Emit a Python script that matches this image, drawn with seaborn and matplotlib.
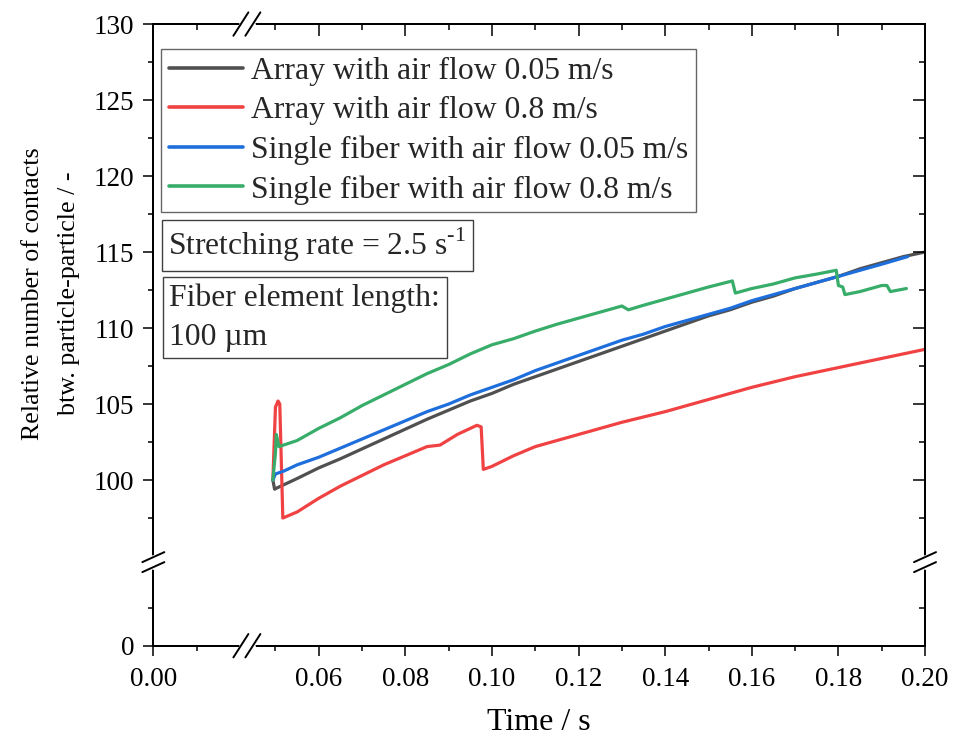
import numpy as np
import pandas as pd
import matplotlib
matplotlib.use("Agg")
import matplotlib.pyplot as plt
from matplotlib.ticker import FixedLocator, FormatStrFormatter
import seaborn as sns

# ---------------- data ----------------
LABELS = ["Array with air flow 0.05 m/s",
          "Array with air flow 0.8 m/s",
          "Single fiber with air flow 0.05 m/s",
          "Single fiber with air flow 0.8 m/s"]
COLORS = ["#505050", "#f04242", "#1e6fdc", "#38ad6a"]

t_arr_slow = [0.0494, 0.0498, 0.0505, 0.052, 0.055, 0.060, 0.065, 0.070, 0.075, 0.080,
              0.085, 0.090, 0.095, 0.100, 0.105, 0.110, 0.115, 0.120, 0.125, 0.130,
              0.135, 0.140, 0.145, 0.150, 0.155, 0.160, 0.165, 0.170, 0.175, 0.180,
              0.185, 0.190, 0.195, 0.200]
v_arr_slow = [100.0, 99.4, 99.5, 99.7, 100.1, 100.8, 101.4, 102.05, 102.7, 103.35,
              104.0, 104.6, 105.2, 105.7, 106.3, 106.8, 107.3, 107.8, 108.3, 108.8,
              109.3, 109.8, 110.3, 110.8, 111.2, 111.7, 112.1, 112.6, 113.0, 113.4,
              113.9, 114.3, 114.7, 115.0]

t_arr_fast = [0.0494, 0.0500, 0.0506, 0.0510, 0.0517, 0.055, 0.060, 0.065, 0.070, 0.075,
              0.080, 0.085, 0.088, 0.092, 0.0965, 0.0975, 0.0980, 0.100, 0.105, 0.110,
              0.115, 0.120, 0.125, 0.130, 0.140, 0.150, 0.160, 0.170, 0.180, 0.190, 0.200]
v_arr_fast = [100.0, 104.8, 105.2, 105.0, 97.5, 97.9, 98.8, 99.6, 100.3, 101.0,
              101.6, 102.2, 102.3, 103.0, 103.6, 103.5, 100.7, 100.9, 101.6, 102.2,
              102.6, 103.0, 103.4, 103.8, 104.5, 105.3, 106.1, 106.8, 107.4, 108.0, 108.6]

t_fib_slow = [0.0494, 0.0500, 0.052, 0.055, 0.060, 0.065, 0.070, 0.075, 0.080, 0.085,
              0.090, 0.095, 0.100, 0.105, 0.110, 0.115, 0.120, 0.125, 0.130, 0.135,
              0.140, 0.145, 0.150, 0.155, 0.160, 0.165, 0.170, 0.175, 0.180, 0.185,
              0.190, 0.196]
v_fib_slow = [100.0, 100.4, 100.6, 101.0, 101.5, 102.1, 102.7, 103.3, 103.9, 104.5,
              105.0, 105.6, 106.1, 106.6, 107.2, 107.7, 108.2, 108.7, 109.2, 109.6,
              110.1, 110.5, 110.9, 111.3, 111.8, 112.2, 112.6, 113.0, 113.4, 113.8,
              114.2, 114.7]

t_fib_fast = [0.0494, 0.0500, 0.0502, 0.0508, 0.055, 0.060, 0.065, 0.070, 0.075, 0.080,
              0.085, 0.090, 0.095, 0.100, 0.105, 0.110, 0.115, 0.120, 0.125, 0.130,
              0.1315, 0.135, 0.140, 0.145, 0.150, 0.1555, 0.1562, 0.160, 0.165, 0.170,
              0.175, 0.1795, 0.1800, 0.181, 0.1815, 0.185, 0.190, 0.1912, 0.1920, 0.1957]
v_fib_fast = [100.0, 101.8, 103.0, 102.2, 102.6, 103.4, 104.1, 104.9, 105.6, 106.3,
              107.0, 107.6, 108.3, 108.9, 109.3, 109.8, 110.25, 110.65, 111.05, 111.45,
              111.2, 111.5, 111.9, 112.3, 112.7, 113.1, 112.3, 112.6, 112.9, 113.3,
              113.55, 113.8, 112.8, 112.7, 112.2, 112.4, 112.8, 112.8, 112.4, 112.6]

X_MAJOR = [0.00, 0.06, 0.08, 0.10, 0.12, 0.14, 0.16, 0.18, 0.20]
X_MINOR = [0.01, 0.05, 0.07, 0.09, 0.11, 0.13, 0.15, 0.17, 0.19]
Y_MAJOR = [0, 100, 105, 110, 115, 120, 125, 130]
Y_MINOR = [2.5, 97.5, 102.5, 107.5, 112.5, 117.5, 122.5, 127.5]

# broken axes: [0, XA] | [XB, 0.20]  and  [0, YA] | [YB, 130]
XA, XB = 0.0216, 0.0434
YA, YB = 5.5, 94.6


def fwd_x(x):
    x = np.asarray(x, float)
    return np.where(x <= XA, x, np.where(x >= XB, x - (XB - XA), XA))


def inv_x(x):
    x = np.asarray(x, float)
    return np.where(x <= XA, x, x + (XB - XA))


def fwd_y(y):
    y = np.asarray(y, float)
    return np.where(y <= YA, y, np.where(y >= YB, y - (YB - YA), YA))


def inv_y(y):
    y = np.asarray(y, float)
    return np.where(y <= YA, y, y + (YB - YA))


frames = []
for lab, t, v in zip(LABELS, [t_arr_slow, t_arr_fast, t_fib_slow, t_fib_fast],
                     [v_arr_slow, v_arr_fast, v_fib_slow, v_fib_fast]):
    frames.append(pd.DataFrame({"t": t, "v": v, "series": lab}))
df = pd.concat(frames, ignore_index=True)

# ---------------- style ----------------
sns.set_theme(style="ticks")
plt.rcParams["font.family"] = ["Liberation Serif", "DejaVu Serif"]
plt.rcParams["mathtext.fontset"] = "custom"
plt.rcParams["mathtext.rm"] = "Liberation Serif"
plt.rcParams["axes.linewidth"] = 1.4

fig = plt.figure(figsize=(9.56, 7.40), dpi=100)
ax = fig.add_axes([0.1604, 0.1274, 0.8072, 0.8401])
ax.set_xscale("function", functions=(fwd_x, inv_x))
ax.set_yscale("function", functions=(fwd_y, inv_y))

sns.lineplot(data=df, x="t", y="v", hue="series", hue_order=LABELS,
             palette=dict(zip(LABELS, COLORS)), estimator=None, sort=False,
             lw=2.3, ax=ax)

ax.set_xlim(0, 0.20)
ax.set_ylim(0, 130)
ax.xaxis.set_major_locator(FixedLocator(X_MAJOR))
ax.xaxis.set_minor_locator(FixedLocator(X_MINOR))
ax.yaxis.set_major_locator(FixedLocator(Y_MAJOR))
ax.yaxis.set_minor_locator(FixedLocator(Y_MINOR))
ax.xaxis.set_major_formatter(FormatStrFormatter("%.2f"))
ax.yaxis.set_major_formatter(FormatStrFormatter("%d"))
ax.tick_params(which="both", direction="out", width=1.1, colors="black",
               labelsize=19.5, top=False, right=False)
ax.tick_params(which="major", length=7.5)
ax.tick_params(which="minor", length=3.8)
ax.tick_params(axis="x", pad=8)
ax.tick_params(axis="y", pad=6)

ax.set_xlabel("Time / s", fontsize=23, color="black", va="center")
ax.set_ylabel("Relative number of contacts\nbtw. particle-particle / -",
              fontsize=18.7, color="black", linespacing=1.8)
ax.xaxis.set_label_coords(0.5, -0.1227)
ax.yaxis.set_label_coords(-0.095, 0.567)

handles, labels = ax.get_legend_handles_labels()
leg = ax.legend(handles, labels, loc="upper left", bbox_to_anchor=(0.0100, 0.9600),
                borderaxespad=0, frameon=True, fancybox=False, edgecolor="0.25",
                fontsize=22.8, handlelength=2.33, handletextpad=0.25,
                borderpad=0.25, labelspacing=0.32)
leg.get_frame().set_linewidth(1.0)
for h in leg.get_lines():
    h.set_linewidth(2.6)

box = dict(boxstyle="square,pad=0.2", fc="white", ec="0.25", lw=1.0)
ax.text(0.0195, 0.675, r"Stretching rate = 2.5 s$^{\text{-1}}$",
        transform=ax.transAxes, ha="left", va="top", fontsize=22.8, bbox=box)
ax.text(0.0208, 0.583, "Fiber element length:\n100 \u00b5m", linespacing=1.45,
        transform=ax.transAxes, ha="left", va="top", fontsize=22.8, bbox=box)

# top / right axes with inward ticks
axt = ax.twiny()
axt.set_xscale("function", functions=(fwd_x, inv_x))
axt.set_xlim(0, 0.20)
axt.xaxis.set_major_locator(FixedLocator(X_MAJOR))
axt.xaxis.set_minor_locator(FixedLocator(X_MINOR))
axt.tick_params(axis="x", which="both", direction="in", width=1.1, colors="black",
                top=True, bottom=False, labeltop=False)
axt.tick_params(axis="x", which="major", length=8.5)
axt.tick_params(axis="x", which="minor", length=4.3)

axr = ax.twinx()
axr.set_yscale("function", functions=(fwd_y, inv_y))
axr.set_ylim(0, 130)
axr.yaxis.set_major_locator(FixedLocator(Y_MAJOR))
axr.yaxis.set_minor_locator(FixedLocator(Y_MINOR))
axr.tick_params(axis="y", which="both", direction="in", width=1.1, colors="black",
                right=True, left=False, labelright=False)
axr.tick_params(axis="y", which="major", length=8.5)
axr.tick_params(axis="y", which="minor", length=4.3)

for a in (ax, axt, axr):
    for s in a.spines.values():
        s.set_linewidth(1.4)
        s.set_color("black")

# break marks
W, H = 771.7, 621.7
xb = XA / (0.20 - (XB - XA))
yb = YA / (130 - (YB - YA))
kw = dict(transform=axr.transAxes, clip_on=False, zorder=20)
for yy in (0, 1):
    axr.plot([xb - 6 / W, xb + 6 / W], [yy, yy], color="white", lw=3.5, **kw)
    for off in (-6, 6):
        cx = xb + off / W
        axr.plot([cx - 7.5 / W, cx + 7.5 / W], [yy - 11.7 / H, yy + 11.7 / H],
                 color="black", lw=1.4, **kw)
for xx in (0, 1):
    axr.plot([xx, xx], [yb - 5 / H, yb + 5 / H], color="white", lw=3.5, **kw)
    for off in (-5, 5):
        cy = yb + off / H
        axr.plot([xx - 11 / W, xx + 11 / W], [cy - 5 / H, cy + 5 / H],
                 color="black", lw=1.4, **kw)

fig.savefig("out.png", dpi=100)
